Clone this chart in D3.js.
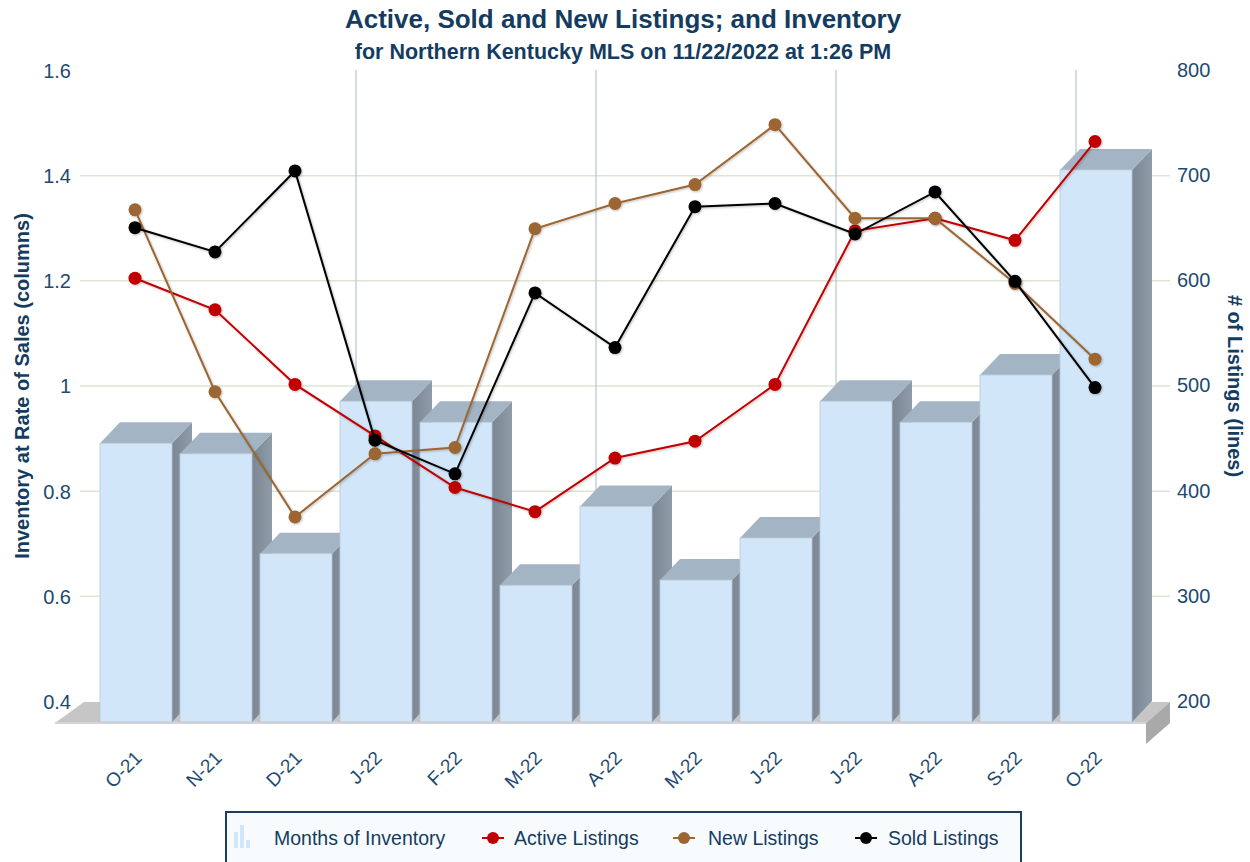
<!DOCTYPE html>
<html><head><meta charset="utf-8">
<script src="https://cdn.jsdelivr.net/npm/d3@7"></script>
<style>body{margin:0;background:#fff}svg{display:block;font-family:"Liberation Sans",Arial,sans-serif}</style>
</head><body><svg id="c" width="1250" height="862"></svg>
<script>
const categories = ["O-21","N-21","D-21","J-22","F-22","M-22","A-22","M-22","J-22","J-22","A-22","S-22","O-22"];
const monthsOfInventory = [0.93,0.91,0.72,1.01,0.97,0.66,0.81,0.67,0.75,1.01,0.97,1.06,1.45];
const activeListings = [622,592,521,472,423,400,451,467,521,667,679,658,752];
const newListings = [687,514,395,455,461,669,693,711,768,679,679,617,545];
const soldListings = [670,647,724,468,436,608,556,690,693,664,704,619,518];
const leftTicks = [0.4,0.6,0.8,1,1.2,1.4,1.6];
const rightTicks = [200,300,400,500,600,700,800];

const svg = d3.select("#c");
const DX = 20, DY = -21;
const navy = "#143c60", lab = "#1d4a70";

const x = d3.scaleBand().domain(d3.range(categories.length)).range([96,1136]).paddingInner(0.1).paddingOuter(0.05);
const yBackL = d3.scaleLinear().domain([0.4,1.6]).range([701,70]);
const yBackR = d3.scaleLinear().domain([200,800]).range([701,70]);
const yFrontL = d3.scaleLinear().domain([0.4,1.6]).range([722,91]);
const yFrontR = d3.scaleLinear().domain([200,800]).range([722,91]);

const defs = svg.append("defs");
const f = defs.append("filter").attr("id","sh").attr("x","-10%").attr("y","-10%").attr("width","120%").attr("height","120%");
f.append("feDropShadow").attr("dx",1).attr("dy",1).attr("stdDeviation",1.2).attr("flood-color","#000").attr("flood-opacity",0.25);
const sg = defs.append("linearGradient").attr("id","side").attr("x1",0).attr("x2",1);
sg.append("stop").attr("offset",0).attr("stop-color","#7b8894");
sg.append("stop").attr("offset",1).attr("stop-color","#8e9ba8");

// titles
svg.append("text").attr("x",623).attr("y",28).attr("text-anchor","middle").attr("font-weight","bold").attr("font-size",26).attr("fill",navy).text("Active, Sold and New Listings; and Inventory");
svg.append("text").attr("x",623).attr("y",59).attr("text-anchor","middle").attr("font-weight","bold").attr("font-size",21.5).attr("fill",navy).text("for Northern Kentucky MLS on 11/22/2022 at 1:26 PM");

// horizontal gridlines (back wall)
const grid = svg.append("g").attr("transform","translate(1170,0)")
  .call(d3.axisLeft(yBackL).tickValues(leftTicks.filter(d=>d<1.6 && d>0.4)).tickSize(1090).tickFormat(""));
grid.select(".domain").remove();
grid.selectAll("line").attr("stroke","#dde4d2").attr("stroke-width",1.5);

// vertical gridlines
const vIdx = [3,6,9,12];
svg.append("g").selectAll("line").data(vIdx).join("line")
  .attr("x1",d=>x(d)-x.step()*0.05+DX).attr("x2",d=>x(d)-x.step()*0.05+DX)
  .attr("y1",70).attr("y2",702).attr("stroke","#b8c5d0").attr("stroke-width",1.2);

// floor
svg.append("polygon").attr("points","55,723 84,702 1170,702 1146,723").attr("fill","#c6c6c6");
svg.append("polygon").attr("points","1146,723 1170,702 1170,723 1146,744").attr("fill","#a9a9a9");
svg.append("line").attr("x1",55).attr("x2",1146).attr("y1",723).attr("y2",723).attr("stroke","#d4d4d4").attr("stroke-width",2);

// axes labels
const axL = svg.append("g").attr("transform","translate(71,1)").call(d3.axisLeft(yBackL).tickValues(leftTicks).tickSize(0).tickPadding(0).tickFormat(d=>String(+d.toFixed(1))));
axL.select(".domain").remove();
axL.selectAll("text").attr("font-size",20).attr("fill",lab).attr("font-family","Liberation Sans, Arial, sans-serif");
const axR = svg.append("g").attr("transform","translate(1177,0)").call(d3.axisRight(yBackR).tickValues(rightTicks).tickSize(0).tickPadding(0));
axR.select(".domain").remove();
axR.selectAll("text").attr("font-size",20).attr("fill",lab).attr("font-family","Liberation Sans, Arial, sans-serif");

svg.append("text").attr("transform","translate(29,386) rotate(-90)").attr("text-anchor","middle").attr("font-weight","bold").attr("font-size",20).attr("fill",navy).text("Inventory at Rate of Sales (columns)");
svg.append("text").attr("transform","translate(1228,386) rotate(90)").attr("text-anchor","middle").attr("font-weight","bold").attr("font-size",20).attr("fill",navy).text("# of Listings (lines)");

// bars
const bw = x.bandwidth();
const bars = svg.append("g");
monthsOfInventory.forEach((v,i)=>{
  const x0 = x(i), x1 = x0+bw, yt = yFrontL(v), yb = yFrontL(0.4);
  const g = bars.append("g");
  g.append("polygon").attr("points",[[x1,yt],[x1+DX,yt+DY],[x1+DX,yb+DY],[x1,yb]].join(" ")).attr("fill","url(#side)");
  g.append("polygon").attr("points",[[x0,yt],[x0+DX,yt+DY],[x1+DX,yt+DY],[x1,yt]].join(" ")).attr("fill","#a3b4c4");
  g.append("rect").attr("x",x0).attr("y",yt).attr("width",bw).attr("height",yb-yt).attr("fill","#d1e6f9").attr("stroke","#b9c9d6").attr("stroke-width",0.8);
});

// x labels
svg.append("g").selectAll("text").data(categories).join("text")
  .attr("transform",(d,i)=>`translate(${x(i)+bw/2+7},${759}) rotate(-45)`)
  .attr("text-anchor","end").attr("font-size",19).attr("fill",lab).text(d=>d);

// lines
const series = [
  {name:"Active Listings", data:activeListings, color:"#c00000"},
  {name:"New Listings", data:newListings, color:"#9b6632"},
  {name:"Sold Listings", data:soldListings, color:"#000000"}
];
const cx = i => x(i)+bw/2-1;
const line = d3.line().x((d,i)=>cx(i)).y(d=>yFrontR(d));
series.forEach(s=>{
  const g = svg.append("g").attr("filter","url(#sh)");
  g.append("path").attr("d",line(s.data)).attr("fill","none").attr("stroke",s.color).attr("stroke-width",2);
  g.selectAll("circle").data(s.data).join("circle").attr("cx",(d,i)=>cx(i)).attr("cy",d=>yFrontR(d)).attr("r",6.5).attr("fill",s.color);
});

// legend
const lg = svg.append("g");
lg.append("rect").attr("x",226).attr("y",812).attr("width",795).attr("height",52).attr("fill","#f8fbfe").attr("stroke","#1d3d5c").attr("stroke-width",2);
const iconBars = [[234,832,4],[240,825,4],[246,840,4]];
lg.selectAll(".ib").data(iconBars).join("rect").attr("x",d=>d[0]).attr("y",d=>d[1]).attr("width",d=>d[2]).attr("height",d=>848-d[1]).attr("fill","#d1e6f9");
lg.append("text").attr("x",274).attr("y",845).attr("font-size",19.5).attr("fill",navy).text("Months of Inventory");
const legItems = [[482,514],[673,708],[855,888]];
series.forEach((s,k)=>{
  const [ix,tx] = legItems[k];
  lg.append("line").attr("x1",ix).attr("x2",ix+22).attr("y1",838).attr("y2",838).attr("stroke",s.color).attr("stroke-width",2);
  lg.append("circle").attr("cx",ix+11).attr("cy",838).attr("r",6).attr("fill",s.color);
  lg.append("text").attr("x",tx).attr("y",845).attr("font-size",19.5).attr("fill",navy).text(s.name);
});
</script></body></html>
